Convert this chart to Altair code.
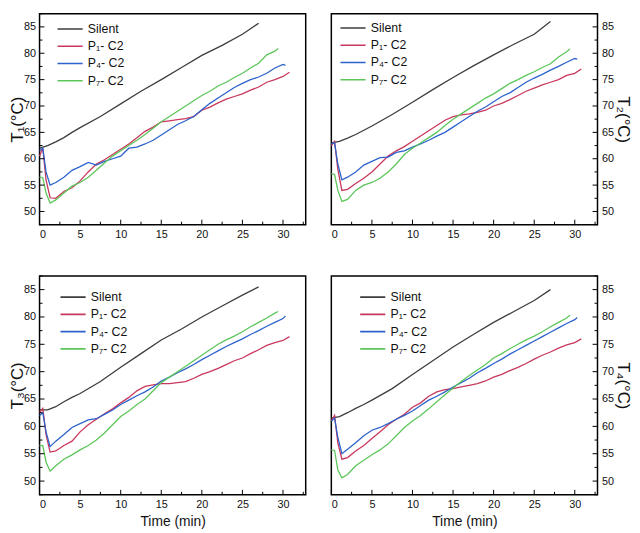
import altair as alt
import pandas as pd

SERIES = ["Silent", "P₁- C2", "P₄- C2", "P₇- C2"]
COLORS = ["#3d3d3d", "#c8385c", "#2b62cc", "#5cc65a"]

X_LABELS = [0, 5, 10, 15, 20, 25, 30]
Y_LABELS = [50, 55, 60, 65, 70, 75, 80, 85]
X_MAJOR = [0, 5, 10, 15, 20, 25, 30]
X_MINOR = [2.5, 7.5, 12.5, 17.5, 22.5, 27.5, 32.5]
Y_MAJOR = [50, 55, 60, 65, 70, 75, 80, 85]
Y_MINOR = [47.5, 52.5, 57.5, 62.5, 67.5, 72.5, 77.5, 82.5, 87.5]

T_SILENT = [0, 1, 2, 3, 4, 5, 7.5, 10, 12.5, 15, 17.5, 20, 22.5, 25, 27]
T_BASE = [0, 0.4, 0.8, 1.3, 2, 3, 4, 5, 6, 7, 8, 9, 10, 11, 12, 13, 14, 15,
          16, 17, 18, 19, 20, 21, 22, 23, 24, 25, 26, 27, 28, 29]
T_P1 = T_BASE + [30, 30.8]
T_P4 = T_BASE + [30, 30.3]
T_P7 = T_BASE + [29.4]

# Panel 1 (T1)
S_1 = [62.0, 62.5, 63.2, 64.0, 65.0, 65.9, 68.0, 70.4, 72.8, 75.0, 77.3, 79.6, 81.5, 83.6, 85.7]
P1_1 = [60.5, 62.0, 56.0, 52.6, 52.5, 53.8, 54.5, 55.8, 57.5, 59.0, 59.8, 60.8, 61.8, 62.8, 64.0,
        65.2, 66.0, 67.0, 67.2, 67.4, 67.6, 68.0, 69.2, 69.8, 70.6, 71.3, 71.8, 72.3, 73.0, 73.6,
        74.5, 75.0, 75.6, 76.4]
P4_1 = [61.5, 62.0, 57.5, 55.0, 55.5, 56.5, 57.8, 58.5, 59.3, 58.8, 59.5, 60.0, 60.5, 62.0, 62.2,
        62.8, 63.5, 64.5, 65.5, 66.5, 67.2, 68.0, 69.3, 70.5, 71.5, 72.5, 73.5, 74.3, 75.0, 75.5,
        76.2, 77.2, 77.9, 77.7]
P7_1 = [56.5, 56.4, 53.5, 51.6, 52.2, 53.5, 54.8, 55.5, 56.5, 57.8, 59.2, 60.5, 61.5, 62.5, 63.5,
        64.6, 65.8, 67.0, 68.0, 69.0, 70.0, 71.0, 72.0, 72.8, 73.8, 74.5, 75.4, 76.2, 77.2, 78.1,
        79.7, 80.4, 80.9]

# Panel 2 (T2)
S_2 = [63.0, 63.3, 63.9, 64.6, 65.4, 66.2, 68.4, 70.7, 73.1, 75.4, 77.6, 79.7, 81.7, 83.6, 86.0]
P1_2 = [62.5, 63.3, 58.0, 54.0, 54.2, 55.3, 56.3, 57.5, 59.0, 60.5, 61.5, 62.3, 63.3, 64.3, 65.3,
        66.3, 67.3, 68.0, 68.3, 68.5, 68.8, 69.2, 70.0, 70.5, 71.2, 72.0, 72.8, 73.4, 74.0, 74.5,
        75.0, 75.8, 76.2, 77.0]
P4_2 = [62.8, 63.0, 59.0, 56.0, 56.5, 57.5, 58.8, 59.5, 60.2, 60.3, 61.2, 61.5, 62.2, 62.8, 63.5,
        64.3, 65.0, 66.0, 67.0, 68.0, 69.0, 69.8, 70.8, 71.8, 72.5, 73.5, 74.5, 75.3, 76.0, 76.8,
        77.5, 78.3, 79.0, 78.9]
P7_2 = [57.2, 57.0, 54.0, 51.9, 52.3, 54.0, 55.0, 55.5, 56.3, 57.5, 59.0, 60.8, 62.0, 63.0, 64.0,
        65.0, 66.3, 67.5, 68.5, 69.5, 70.5, 71.5, 72.3, 73.3, 74.3, 75.0, 75.8, 76.5, 77.3, 78.0,
        79.3, 80.3, 80.8]

# Panel 3 (T3)
S_3 = [63.0, 63.0, 63.6, 64.5, 65.3, 66.0, 68.2, 70.8, 73.3, 75.8, 77.8, 80.0, 82.0, 84.0, 85.5]
P1_3 = [62.5, 63.3, 58.5, 55.3, 55.5, 56.5, 57.3, 59.0, 60.3, 61.3, 62.3, 63.2, 64.3, 65.3, 66.5,
        67.3, 67.6, 67.8, 67.8, 68.0, 68.2, 68.8, 69.5, 70.0, 70.6, 71.3, 72.0, 72.5, 73.3, 74.0,
        74.8, 75.3, 75.7, 76.4]
P4_3 = [62.0, 62.5, 59.0, 56.3, 57.3, 58.5, 59.8, 60.5, 61.2, 61.4, 62.2, 63.0, 64.0, 64.8, 65.6,
        66.3, 67.2, 68.3, 69.0, 69.8, 70.5, 71.3, 72.2, 73.0, 73.8, 74.6, 75.3, 76.0, 76.8, 77.5,
        78.3, 79.0, 79.7, 80.2]
P7_3 = [56.5, 56.5, 53.5, 51.8, 52.8, 54.0, 54.8, 55.7, 56.5, 57.5, 58.8, 60.3, 61.8, 62.8, 64.0,
        65.0, 66.5, 68.0, 69.0, 70.0, 71.0, 72.0, 73.0, 74.0, 75.0, 75.8, 76.5, 77.3, 78.2, 79.0,
        79.8, 80.7, 81.0]

# Panel 4 (T4)
S_4 = [61.5, 61.8, 62.5, 63.3, 64.0, 64.8, 66.9, 69.5, 72.0, 74.5, 76.8, 79.0, 81.0, 83.0, 85.0]
P1_4 = [61.0, 62.0, 57.0, 54.0, 54.3, 55.5, 56.5, 57.8, 59.0, 60.3, 61.3, 62.2, 63.5, 64.3, 65.5,
        66.3, 66.7, 66.9, 67.2, 67.5, 67.8, 68.3, 69.0, 69.5, 70.2, 70.8, 71.5, 72.3, 73.0, 73.6,
        74.3, 74.9, 75.3, 76.0]
P4_4 = [61.0, 61.5, 58.0, 55.0, 55.8, 57.0, 58.3, 59.3, 59.8, 60.5, 61.3, 62.0, 62.8, 63.8, 64.8,
        65.5, 66.3, 67.2, 68.0, 68.8, 69.8, 70.6, 71.5, 72.3, 73.2, 74.0, 74.8, 75.6, 76.4, 77.2,
        78.0, 78.8, 79.5, 79.9]
P7_4 = [55.7, 55.6, 52.0, 50.6, 51.2, 52.8, 53.8, 54.8, 55.7, 56.8, 58.3, 59.8, 61.0, 62.0, 63.2,
        64.5, 65.8, 67.0, 68.2, 69.3, 70.3, 71.3, 72.5, 73.3, 74.2, 75.0, 75.8, 76.5, 77.3, 78.2,
        79.0, 79.8, 80.3]

W = 270
H_TOP, H_BOT = 214, 222
FONT = "Liberation Sans"


def build_df(s, p1, p4, p7):
    frames = []
    for name, t, v in [(SERIES[0], T_SILENT, s), (SERIES[1], T_P1, p1),
                       (SERIES[2], T_P4, p4), (SERIES[3], T_P7, p7)]:
        frames.append(pd.DataFrame({"t": t, "v": v, "series": name,
                                    "order": range(len(t))}))
    return pd.concat(frames, ignore_index=True)


def panel(s, p1, p4, p7, ytitle, yorient, xtitle, legx, legy, h):
    xscale = alt.Scale(domain=[0, 32.8], nice=False, zero=False)
    yscale = alt.Scale(domain=[47.5, 87.5], nice=False, zero=False)
    xaxis = alt.Axis(values=X_LABELS, title=xtitle, titleFontSize=14,
                     titlePadding=5, labelPadding=4)
    yaxis = alt.Axis(values=Y_LABELS, title=ytitle, orient=yorient,
                     titleFontSize=17, titlePadding=(-3 if yorient == "left" else 0),
                     labelPadding=4)
    X = alt.X("t:Q", scale=xscale, axis=xaxis)
    Y = alt.Y("v:Q", scale=yscale, axis=yaxis)

    df = build_df(s, p1, p4, p7)
    lines = alt.Chart(df).mark_line(strokeWidth=1.3).encode(
        x=X, y=Y,
        order="order:Q",
        color=alt.Color("series:N",
                        scale=alt.Scale(domain=SERIES, range=COLORS),
                        sort=SERIES,
                        legend=alt.Legend(orient="none", legendX=legx, legendY=legy,
                                          title=None, symbolType="stroke",
                                          symbolSize=650, symbolStrokeWidth=1.6,
                                          clipHeight=13, padding=0,
                                          labelFontSize=12.5, labelColor="#111",
                                          labelOffset=4, rowPadding=4.5,
                                          labelFont=FONT)),
    )

    xmaj = alt.Chart(pd.DataFrame({"t": X_MAJOR})).mark_rule(color="black", strokeWidth=1).encode(
        x=X, y=alt.value(h), y2=alt.value(h - 5))
    xmin = alt.Chart(pd.DataFrame({"t": X_MINOR})).mark_rule(color="black", strokeWidth=1).encode(
        x=X, y=alt.value(h), y2=alt.value(h - 3))
    edge = 0 if yorient == "left" else W
    sign = 1 if yorient == "left" else -1
    ymaj = alt.Chart(pd.DataFrame({"v": Y_MAJOR})).mark_rule(color="black", strokeWidth=1).encode(
        y=Y, x=alt.value(edge), x2=alt.value(edge + sign * 5))
    ymin = alt.Chart(pd.DataFrame({"v": Y_MINOR})).mark_rule(color="black", strokeWidth=1).encode(
        y=Y, x=alt.value(edge), x2=alt.value(edge + sign * 3))

    return alt.layer(lines, xmaj, xmin, ymaj, ymin).properties(width=W, height=h)


c1 = panel(S_1, P1_1, P4_1, P7_1, "T₁(°C)", "left", None, 17, 9, H_TOP)
c2 = panel(S_2, P1_2, P4_2, P7_2, "T₂(°C)", "right", None, 8, 8, H_TOP)
c3 = panel(S_3, P1_3, P4_3, P7_3, "T₃(°C)", "left", "Time (min)", 20, 15, H_BOT)
c4 = panel(S_4, P1_4, P4_4, P7_4, "T₄(°C)", "right", "Time (min)", 28, 15, H_BOT)

top = alt.hconcat(c1, c2, spacing=21).resolve_scale(color="independent")
bottom = alt.hconcat(c3, c4, spacing=21).resolve_scale(color="independent")

chart = alt.vconcat(top, bottom, spacing=34).resolve_scale(color="independent").properties(
    padding=0
).configure(font=FONT).configure_view(
    stroke="black", strokeWidth=1.5
).configure_axis(
    ticks=False, domain=False, grid=False, labelFontSize=11, labelColor="#111",
    titleColor="#111", titleFontWeight="normal", labelFont=FONT, titleFont=FONT
)

chart.save("out.html", embed_options={"renderer": "svg", "actions": False})
